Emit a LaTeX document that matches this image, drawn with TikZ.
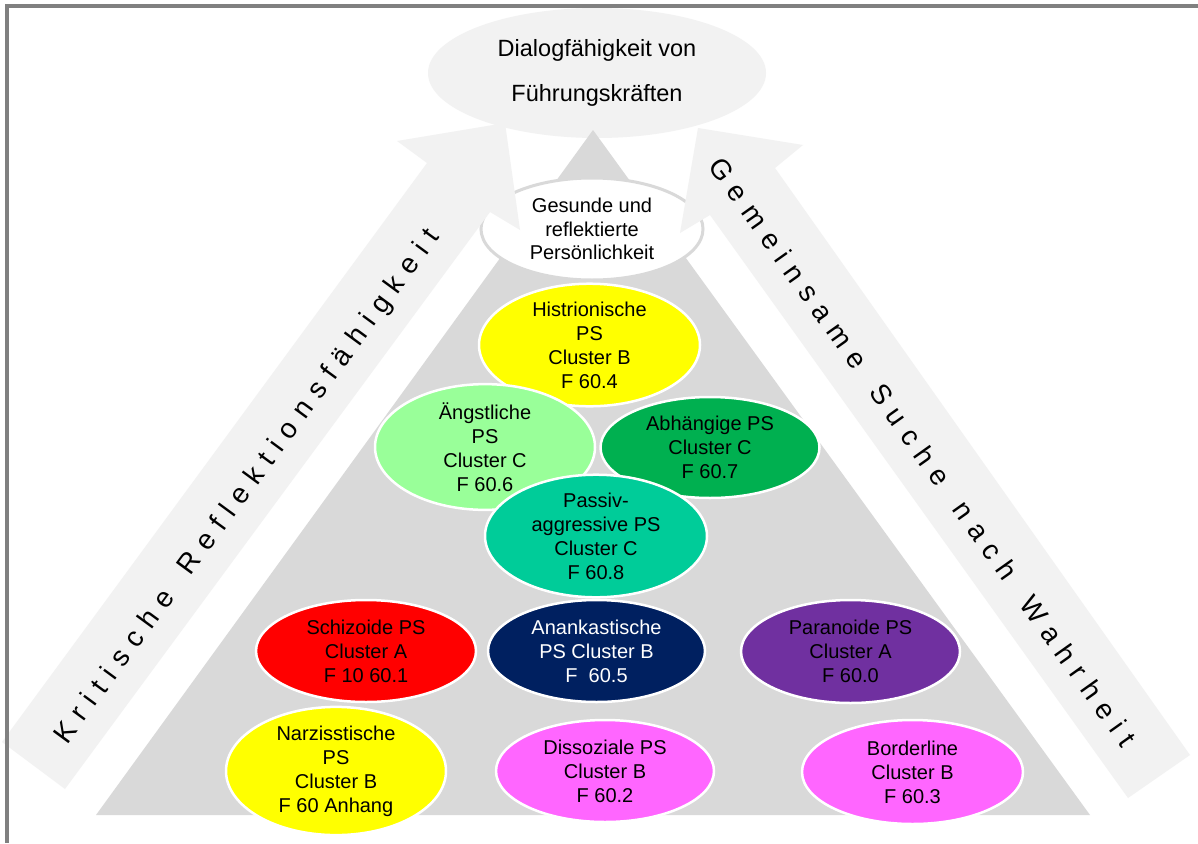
\documentclass[tikz,border=0pt]{standalone}
\usepackage{fontspec}
\setmainfont{Liberation Sans}
\usetikzlibrary{shapes.geometric}
\definecolor{framegray}{HTML}{808080}
\definecolor{lightbg}{HTML}{F2F2F2}
\definecolor{pyrgray}{HTML}{D9D9D9}
\definecolor{cyel}{HTML}{FFFF00}
\definecolor{clgreen}{HTML}{99FF99}
\definecolor{cgreen}{HTML}{00B050}
\definecolor{cteal}{HTML}{00CC99}
\definecolor{cred}{HTML}{FF0000}
\definecolor{cnavy}{HTML}{002060}
\definecolor{cpurple}{HTML}{7030A0}
\definecolor{cmag}{HTML}{FF66FF}
\newcommand\spacedtext[1]{\spacedaux#1\relax\unkern}
\def\spacedaux#1{\ifx\relax#1\else#1\kern9.4pt\expandafter\spacedaux\fi}
\begin{document}
\begin{tikzpicture}[x=1pt,y=-1pt,
  pe/.style={ellipse, draw=white, line width=2.5pt, inner sep=0pt, align=center,
    font=\fontsize{20}{24}\selectfont, text=black},
  arrowshape/.style={fill=lightbg, draw=none},
  arrowtext/.style={font=\fontsize{28}{32}\selectfont, inner sep=0pt, text=black}]
\useasboundingbox (0,0) rectangle (1198,843);
\fill[white] (0,0) rectangle (1198,843);
% top ellipse
\node[ellipse, fill=lightbg, inner sep=0pt, minimum width=338pt, minimum height=130pt,
  align=center, font=\fontsize{23.5}{45}\selectfont] (top) at (597,73)
  {Dialogfähigkeit von\\Führungskräften};
% pyramid
\fill[pyrgray] (96,815) -- (593,130) -- (1090,815) -- cycle;
% healthy personality
\node[ellipse, fill=white, draw=pyrgray, line width=3pt, inner sep=0pt,
  minimum width=222pt, minimum height=102pt, align=center,
  font=\fontsize{20}{23.5}\selectfont] (gesund) at (592,229)
  {Gesunde und\\reflektierte\\Persönlichkeit};
% arrows
\fill[arrowshape] (505,123) -- (520,230) -- (490,212) -- (65,789) -- (2,742) -- (427,163) -- (397,141) -- cycle;
\fill[arrowshape] (698,128) -- (803,145) -- (775,168) -- (1190,755) -- (1128,798) -- (710,215) -- (680,233) -- cycle;
\node[arrowtext, rotate=53.7] (lefttext) at (248,487) {\spacedtext{Kritische~Reflektionsfähigkeit}};
\node[arrowtext, rotate=-54.6] (righttext) at (923,452) {\spacedtext{Gemeinsame~Suche~nach~Wahrheit}};
% frame
\draw[framegray, line width=4pt] (1198,6) -- (7,6) -- (7,843);
% personality disorders
\node[pe, fill=cyel, minimum width=221pt, minimum height=102pt] (hist) at (589.5,345)
  {Histrionische\\PS\\Cluster B\\F 60.4};
\node[pe, fill=clgreen, minimum width=220pt, minimum height=103pt] (angst) at (485,447)
  {Ängstliche\\PS\\Cluster C\\F 60.6};
\node[pe, fill=cgreen, minimum width=219pt, minimum height=101pt] (abh) at (710,447.5)
  {Abhängige PS\\Cluster C\\F 60.7};
\node[pe, fill=cteal, minimum width=222pt, minimum height=101pt] (passiv) at (596,536)
  {Passiv-\\aggressive PS\\Cluster C\\F 60.8};
\node[pe, fill=cred, minimum width=220pt, minimum height=102pt] (schiz) at (366,651)
  {Schizoide PS\\Cluster A\\F 10 60.1};
\node[pe, fill=cnavy, text=white, minimum width=217pt, minimum height=102pt] (anank) at (596.5,651)
  {Anankastische\\PS Cluster B\\F~~60.5};
\node[pe, fill=cpurple, minimum width=219pt, minimum height=103pt] (para) at (850.5,651.5)
  {Paranoide PS\\Cluster A\\F 60.0};
\node[pe, fill=cyel, minimum width=220pt, minimum height=104pt] (narz) at (336,771)
  {Narzisstische\\PS\\Cluster B\\F 60 Anhang};
\node[pe, fill=cmag, minimum width=218pt, minimum height=102pt] (diss) at (605,771)
  {Dissoziale PS\\Cluster B\\F 60.2};
\node[pe, fill=cmag, minimum width=221pt, minimum height=104pt] (border) at (912.5,772)
  {Borderline\\Cluster B\\F 60.3};
\end{tikzpicture}
\end{document}
